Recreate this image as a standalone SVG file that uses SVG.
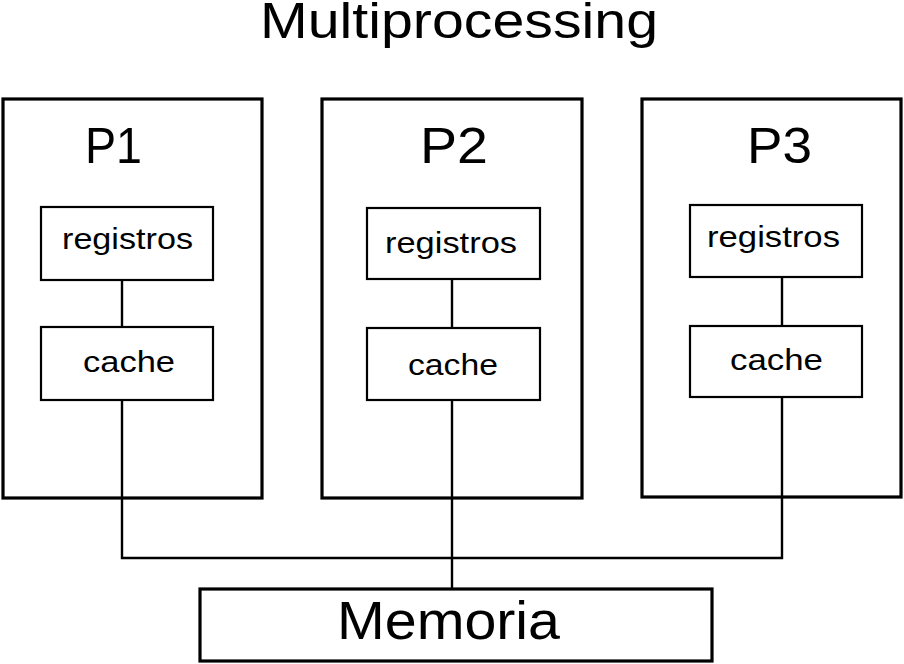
<svg xmlns="http://www.w3.org/2000/svg" width="904" height="664" viewBox="0 0 904 664">
<style>
text{font-family:"Liberation Sans",Arial,sans-serif;fill:#000}
.outer{fill:none;stroke:#000;stroke-width:3.2}
.inner{fill:#fff;stroke:#000;stroke-width:2.2}
.conn{fill:none;stroke:#000;stroke-width:2.4}
.t{font-size:50px}
.s{font-size:30px}
.m{font-size:53px}
</style>
<rect width="904" height="664" fill="#fff"/>
<text x="260" y="38" font-size="50" textLength="398" lengthAdjust="spacingAndGlyphs">Multiprocessing</text>
<g id="connectors">
<line class="conn" x1="122" y1="280" x2="122" y2="327"/>
<line class="conn" x1="452" y1="279" x2="452" y2="327"/>
<line class="conn" x1="782" y1="277" x2="782" y2="326"/>
<polyline class="conn" points="122,400 122,558 782,558 782,397"/>
<line class="conn" x1="452" y1="400" x2="452" y2="589"/>
</g>
<g id="P1">
<rect class="outer" x="3" y="99" width="259" height="399"/>
<text class="t" x="85" y="163" textLength="57" lengthAdjust="spacingAndGlyphs">P1</text>
<g id="P1-registros"><rect class="inner" x="41" y="207" width="172" height="73"/>
<text class="s" x="62" y="249" textLength="131" lengthAdjust="spacingAndGlyphs">registros</text></g>
<g id="P1-cache"><rect class="inner" x="41" y="327" width="172" height="73"/>
<text class="s" x="83" y="372" textLength="92" lengthAdjust="spacingAndGlyphs">cache</text></g>
</g>
<g id="P2">
<rect class="outer" x="322" y="99" width="260" height="399"/>
<text class="t" x="420" y="163" textLength="68" lengthAdjust="spacingAndGlyphs">P2</text>
<g id="P2-registros"><rect class="inner" x="367" y="208" width="173" height="71"/>
<text class="s" x="385" y="253" textLength="132" lengthAdjust="spacingAndGlyphs">registros</text></g>
<g id="P2-cache"><rect class="inner" x="367" y="328" width="173" height="72"/>
<text class="s" x="408" y="375" textLength="90" lengthAdjust="spacingAndGlyphs">cache</text></g>
</g>
<g id="P3">
<rect class="outer" x="642" y="99" width="259" height="398"/>
<text class="t" x="747" y="163" textLength="65" lengthAdjust="spacingAndGlyphs">P3</text>
<g id="P3-registros"><rect class="inner" x="690" y="205" width="172" height="72"/>
<text class="s" x="707" y="247" textLength="133" lengthAdjust="spacingAndGlyphs">registros</text></g>
<g id="P3-cache"><rect class="inner" x="690" y="326" width="172" height="71"/>
<text class="s" x="730" y="370" textLength="93" lengthAdjust="spacingAndGlyphs">cache</text></g>
</g>
<g id="Memoria">
<rect class="outer" x="200" y="589" width="512" height="72"/>
<text class="m" x="337" y="639" textLength="223" lengthAdjust="spacingAndGlyphs">Memoria</text>
</g>
</svg>
